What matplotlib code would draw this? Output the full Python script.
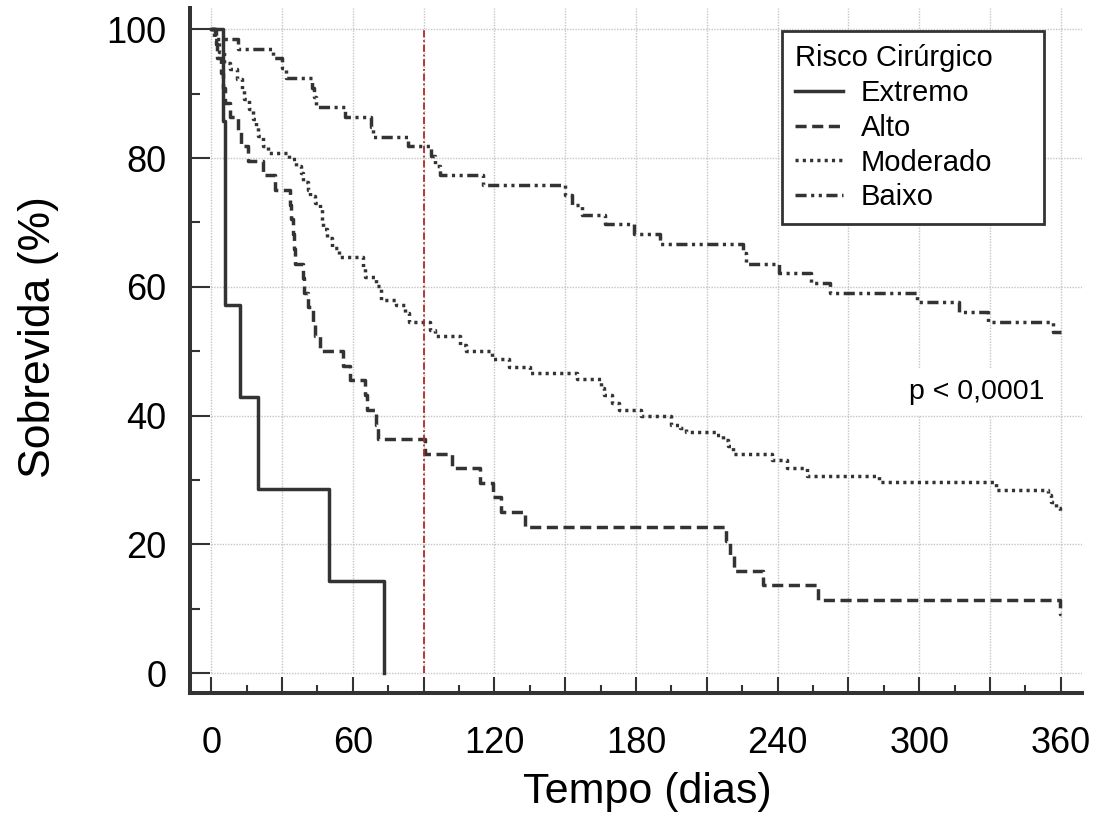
import matplotlib
matplotlib.use("Agg")
import matplotlib.pyplot as plt
from matplotlib.ticker import MultipleLocator, FuncFormatter

plt.rcParams["font.family"] = ["Liberation Sans", "DejaVu Sans"]

# survival curves (days, %)
extremo_t = [0, 5, 6, 12, 20, 50, 73]
extremo_s = [100, 85.7, 57.1, 42.9, 28.6, 14.3, 0]

alto_t = [0, 2, 2.5, 4, 5, 6, 8, 11.5, 12.5, 15.7, 22, 27, 33.5, 34, 34.5, 35,
          35.5, 39, 39.5, 41, 43, 44, 46, 56, 59, 65, 66, 70, 70.5, 90.5, 102,
          114, 119.5, 123, 133, 218, 220, 221.5, 234, 257, 359.5, 360]
alto_s = [100, 97.7, 95.5, 93.2, 90.9, 88.6, 86.4, 84.1, 81.8, 79.5, 77.3, 75.0,
          72.7, 70.5, 68.2, 65.9, 63.6, 61.4, 59.1, 56.8, 54.5, 52.3, 50.0, 47.7,
          45.5, 43.2, 40.9, 38.6, 36.4, 34.1, 31.8, 29.5, 27.3, 25.0, 22.7, 20.5,
          18.2, 15.9, 13.6, 11.4, 9.1, 9.1]

moderado_t = [0, 1, 3.5, 5.5, 8, 11, 13, 14, 16, 17.5, 19, 20, 22, 24, 33, 36,
              38, 39, 41, 42, 44, 46, 47, 47.5, 49, 51, 54, 64.5, 65, 70, 72,
              78.5, 82, 84, 92.5, 95, 105.5, 108, 119, 126, 135, 155, 165, 166.5,
              170, 173, 182, 195, 198.5, 201, 214, 217, 219, 221, 237.5, 244,
              252.5, 283, 332.5, 354.5, 356, 358, 359.5, 360]
moderado_s = [100, 98.4, 96.4, 94.8, 93.8, 92.2, 90.7, 89.1, 87.6, 86.0, 85.0,
              83.4, 81.9, 80.8, 79.8, 78.7, 77.7, 76.2, 75.1, 74.1, 73.0, 72.3,
              70.2, 68.9, 67.6, 66.0, 64.7, 62.9, 61.5, 60.1, 58.0, 57.2, 55.9,
              54.6, 53.3, 52.3, 51.0, 50.0, 48.8, 47.6, 46.6, 45.6, 44.3, 43.2,
              41.9, 40.9, 39.9, 38.6, 38.0, 37.5, 37.0, 36.2, 35.2, 34.1, 33.1,
              31.8, 30.6, 29.6, 28.5, 27.7, 26.6, 25.6, 24.8, 24.8]

baixo_t = [0, 1.5, 11.5, 26, 30, 31.5, 42.5, 43.5, 44.5, 56.5, 67.5, 68.5, 83.5,
           93, 95, 97, 115, 150, 153, 157, 167, 179, 190, 225.5, 226.5, 240.5,
           254, 262, 299, 317, 329, 356.5, 360]
baixo_s = [100, 98.5, 97.0, 95.5, 94.0, 92.5, 90.9, 89.4, 87.9, 86.4, 84.8, 83.3,
           81.8, 80.3, 78.8, 77.3, 75.8, 74.2, 72.7, 71.2, 69.7, 68.2, 66.7, 65.2,
           63.6, 62.1, 60.6, 59.1, 57.6, 56.1, 54.5, 53.0, 53.0]

marco_dias = 90
p_texto = "p < 0,0001"

INK = "#333333"
LW = 2.5

fig = plt.figure(figsize=(11.02, 8.17), dpi=100)
ax = fig.add_axes([190 / 1102, 1 - 693 / 817, 892 / 1102, 685 / 817])
ax.set_xlim(-9, 369)
ax.set_ylim(-3.1, 103.3)

# grid only over the data region
grid_kw = dict(color="#c4c4c4", linewidth=1.0, linestyle=(0, (1, 1)), zorder=0)
ax.hlines(range(0, 101, 20), 0, 369, **grid_kw)
ax.vlines(range(0, 361, 30), 0, 103.3, **grid_kw)

ax.step(extremo_t, extremo_s, where="post", color=INK, lw=LW,
        linestyle="-", label="Extremo")
ax.step(alto_t, alto_s, where="post", color=INK, lw=LW,
        linestyle=(0, (3.2, 1.6)), label="Alto")
ax.step(moderado_t, moderado_s, where="post", color=INK, lw=LW,
        linestyle=(0, (0.9, 1.2)), label="Moderado")
ax.step(baixo_t, baixo_s, where="post", color=INK, lw=LW,
        linestyle=(0, (3.2, 1.3, 0.9, 1.3, 0.9, 1.3)), label="Baixo")

ax.vlines(marco_dias, 0, 100, color="#b02a2a", lw=1.3,
          linestyle=(0, (4, 1.5, 1, 1.5)), zorder=3)

ax.text(324.5, 43.7, p_texto, fontsize=20.5, ha="center", va="center",
        bbox=dict(boxstyle="square,pad=0.35", fc="white", ec="none"), zorder=4)

for side in ("top", "right"):
    ax.spines[side].set_visible(False)
for side in ("left", "bottom"):
    ax.spines[side].set_linewidth(2.9)
    ax.spines[side].set_color(INK)

ax.xaxis.set_major_locator(MultipleLocator(30))
ax.xaxis.set_minor_locator(MultipleLocator(15))
ax.xaxis.set_major_formatter(
    FuncFormatter(lambda v, pos: f"{int(v)}" if v % 60 == 0 else ""))
ax.yaxis.set_major_locator(MultipleLocator(20))
ax.yaxis.set_minor_locator(MultipleLocator(10))

ax.tick_params(axis="x", which="major", direction="in", length=11.5,
               width=1.5, color=INK, labelsize=26, pad=24)
ax.tick_params(axis="x", which="minor", direction="in", length=6,
               width=1.5, color=INK)
ax.tick_params(axis="y", which="major", direction="in", length=14.5,
               width=1.5, color=INK, labelsize=26, pad=17)
ax.tick_params(axis="y", which="minor", direction="in", length=7,
               width=1.5, color=INK)
ax.set_xticks([t for t in range(0, 361, 30)])
ax.set_xticks([t for t in range(15, 360, 30)], minor=True)

ax.set_xlabel("Tempo (dias)", fontsize=31, va="center")
ax.xaxis.set_label_coords(0.5125, -0.145)
ax.set_ylabel("Sobrevida (%)", fontsize=32, va="center")
ax.yaxis.set_label_coords(-0.170, 0.52)

leg = ax.legend(title="Risco Cirúrgico", loc="upper left",
                bbox_to_anchor=(0.6637, 0.5, 0.2937, 0.466), mode="expand",
                borderaxespad=0, fontsize=21, title_fontsize=21,
                fancybox=False, framealpha=1, edgecolor=INK, borderpad=0.45,
                labelspacing=0.23, handlelength=1.65, handletextpad=0.6,
                alignment="left")
leg.get_frame().set_linewidth(2)

fig.savefig("out.png", dpi=100, facecolor="white")
